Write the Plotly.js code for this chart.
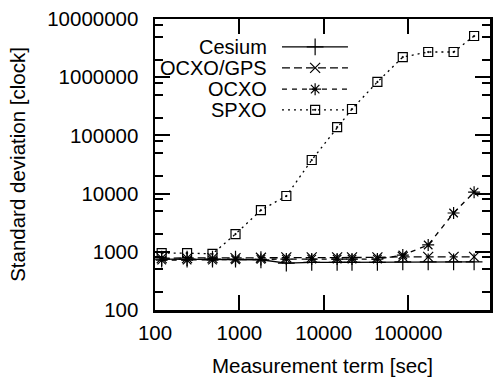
<!DOCTYPE html>
<html>
<head>
<meta charset="utf-8">
<script src="https://cdn.plot.ly/plotly-3.0.1.min.js"></script>
<style>html,body{margin:0;padding:0;background:#fff}#chart{width:493px;height:378px}</style>
</head>
<body>
<div id="chart"></div>
<script>
const terms = [120, 240, 480, 900, 1800, 3600, 7200, 14400, 21600, 43200, 86400, 172800, 345600, 604800];
const cesium  = [750, 750, 750, 750, 730, 640, 660, 660, 660, 660, 670, 670, 670, 670];
const ocxoGps = [780, 780, 780, 780, 790, 800, 800, 800, 800, 800, 820, 820, 820, 820];
const ocxo    = [720, 720, 720, 730, 740, 750, 750, 750, 750, 750, 880, 1310, 4640, 10600];
const spxo    = [950, 950, 920, 2020, 5200, 9100, 37800, 139000, 284000, 828000, 2220000, 2710000, 2710000, 5100000];
const seriesNames = ["Cesium", "OCXO/GPS", "OCXO", "SPXO"];
const xTicks = [100, 1000, 10000, 100000];
const xTickText = ["100", "1000", "10000", "100000"];
const yTicks = [100, 1000, 10000, 100000, 1000000, 10000000];
const yTickText = ["100", "1000", "10000", "100000", "1000000", "10000000"];
const yMinor = [];
[100, 1000, 10000, 100000, 1000000].forEach(d => [2, 5, 8].forEach(k => yMinor.push(d * k)));

const FONT = "Liberation Sans, Arial, sans-serif";
const styles = [
  {dash: "solid", symbol: "cross-thin-open", size: 12},
  {dash: "8px,4px", symbol: "x-thin-open", size: 10},
  {dash: "5px,5px", symbol: "asterisk-open", size: 10},
  {dash: "2px,4px", symbol: "square-open-dot", size: 9}
];
const ys = [cesium, ocxoGps, ocxo, spxo];
const traces = [];
ys.forEach((y, i) => {
  traces.push({
    x: terms, y: y, type: "scatter", mode: "lines+markers", name: seriesNames[i],
    line: {color: "#000", width: 1.3, dash: styles[i].dash},
    marker: {symbol: styles[i].symbol, size: styles[i].size, color: "#000", line: {color: "#000", width: 1.2}},
    showlegend: false, cliponaxis: true
  });
});
// legend samples (drawn on a hidden overlay axis in plot-fraction units)
const legRows = [0.904, 0.832, 0.759, 0.688];
const legX0 = 0.379, legX1 = 0.576, legXm = 0.478;
const annotations = [];
seriesNames.forEach((n, i) => {
  traces.push({
    x: [legX0, legX1], y: [legRows[i], legRows[i]], xaxis: "x2", yaxis: "y2",
    type: "scatter", mode: "lines", showlegend: false, hoverinfo: "skip",
    line: {color: "#000", width: 1.3, dash: styles[i].dash}
  });
  traces.push({
    x: [legXm], y: [legRows[i]], xaxis: "x2", yaxis: "y2",
    type: "scatter", mode: "markers", showlegend: false, hoverinfo: "skip",
    marker: {symbol: styles[i].symbol, size: styles[i].size, color: "#000", line: {color: "#000", width: 1.2}}
  });
  annotations.push({
    text: n, xref: "paper", yref: "paper", x: 0.337, y: legRows[i],
    xanchor: "right", yanchor: "middle", showarrow: false, borderpad: 0,
    font: {family: FONT, size: 20, color: "#000"}
  });
});

const layout = {
  width: 493, height: 378,
  margin: {l: 155, r: 3, t: 19, b: 68, pad: 0},
  paper_bgcolor: "#fff", plot_bgcolor: "#fff",
  showlegend: false,
  font: {family: FONT, size: 20.5, color: "#000"},
  xaxis: {
    type: "log", range: [2, 5.97], tickmode: "array", tickvals: xTicks, ticktext: xTickText,
    ticks: "inside", ticklen: 15, tickwidth: 2, tickcolor: "#000", ticklabelstandoff: 3,
    showline: true, linewidth: 2.5, linecolor: "#000", mirror: "ticks",
    showgrid: false, zeroline: false,
    tickfont: {family: FONT, size: 20.5, color: "#000"},
    title: {text: "Measurement term [sec]", font: {family: FONT, size: 20.5, color: "#000"}, standoff: 16}
  },
  yaxis: {
    type: "log", range: [2, 7], tickmode: "array", tickvals: yTicks, ticktext: yTickText,
    ticks: "inside", ticklen: 15, tickwidth: 2, tickcolor: "#000", ticklabelstandoff: 10,
    showline: true, linewidth: 2.5, linecolor: "#000", mirror: "ticks",
    showgrid: false, zeroline: false,
    minor: {tickmode: "array", tickvals: yMinor, ticks: "inside", ticklen: 8, tickwidth: 2, tickcolor: "#000", showgrid: false},
    tickfont: {family: FONT, size: 20.5, color: "#000"},
    title: {text: "Standard deviation [clock]", font: {family: FONT, size: 20.5, color: "#000"}, standoff: 16}
  },
  xaxis2: {overlaying: "x", anchor: "y2", range: [0, 1], visible: false, fixedrange: true},
  yaxis2: {overlaying: "y", anchor: "x2", range: [0, 1], visible: false, fixedrange: true},
  annotations: annotations
};
Plotly.newPlot("chart", traces, layout, {displayModeBar: false, staticPlot: true});
</script>
</body>
</html>
